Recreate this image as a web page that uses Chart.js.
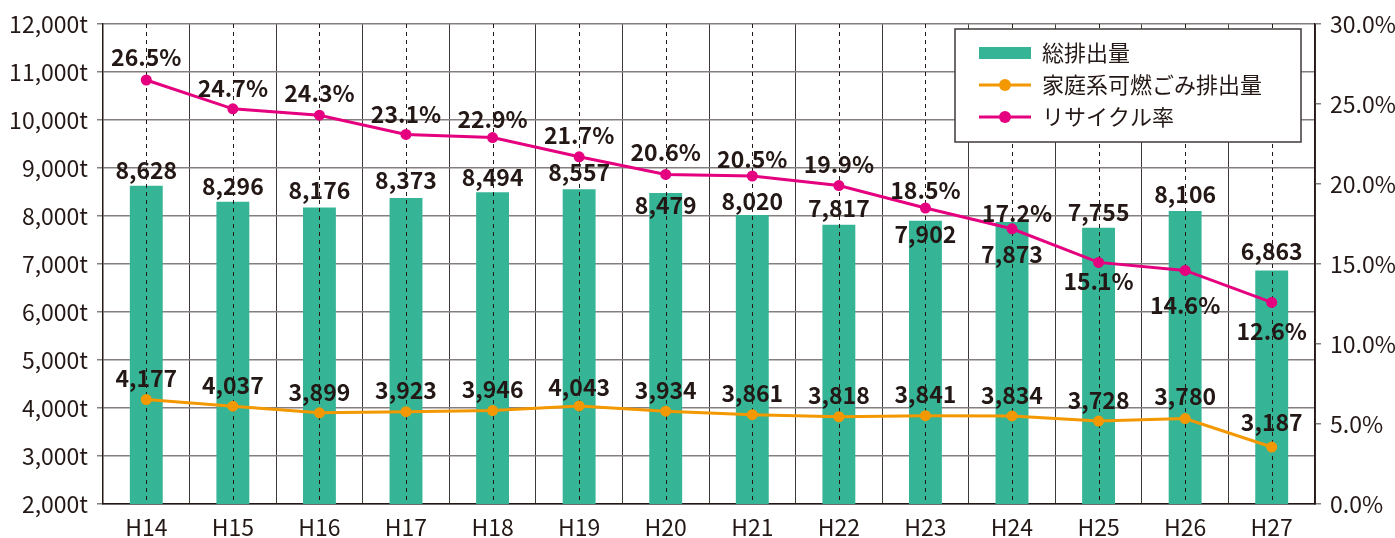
<!DOCTYPE html>
<html>
<head>
<meta charset="utf-8">
<script src="https://cdn.jsdelivr.net/npm/chart.js@4/dist/chart.umd.min.js"></script>
<style>
  html, body { margin: 0; padding: 0; background: #fff; }
  #wrap { width: 1395px; height: 538px; }
</style>
</head>
<body>
<div id="wrap"><canvas id="chart" width="1395" height="538"></canvas></div>
<script>
// データ
var years = ['H14', 'H15', 'H16', 'H17', 'H18', 'H19', 'H20', 'H21', 'H22', 'H23', 'H24', 'H25', 'H26', 'H27'];
var totalWaste = [8628, 8296, 8176, 8373, 8494, 8557, 8479, 8020, 7817, 7902, 7873, 7755, 8106, 6863];
var householdWaste = [4177, 4037, 3899, 3923, 3946, 4043, 3934, 3861, 3818, 3841, 3834, 3728, 3780, 3187];
var recycleRate = [26.5, 24.7, 24.3, 23.1, 22.9, 21.7, 20.6, 20.5, 19.9, 18.5, 17.2, 15.1, 14.6, 12.6];

// ラベルの上下位置 (px)
var totalLabelDy = [-16, -16, -17, -18, -15, -17, 12, -14, -17, 14, 32, -15, -17, -19];
var householdLabelDy = [-21, -21, -21, -21, -21, -19, -21, -21, -21, -21, -21, -21, -22, -25];
var recycleLabelDy = [-23, -21, -22, -20, -18, -22, -22, -17, -21, -18, -16, 19, 35, 29];
var recycleLabelDx = [0, 0, 0, 0, 0, 0, 0, 0, 0, 0, 5, 0, 0, 0];

var textColor = '#231815';
var green = '#35b596';
var orange = '#f39800';
var pink = '#e4007f';
var fontJP = '"Noto Sans CJK JP", "Noto Sans", sans-serif';

function fmt(n) {
    return n.toString().replace(/\B(?=(\d{3})+(?!\d))/g, ',');
}

// 中央の点線
var centerLines = {
    id: 'centerLines',
    afterDatasetDraw: function (chart, args) {
        if (args.index !== 0) return;
        var ctx = chart.ctx, area = chart.chartArea;
        var x = chart.scales.x;
        ctx.save();
        ctx.strokeStyle = '#231815';
        ctx.lineWidth = 1;
        ctx.setLineDash([4, 4]);
        for (var i = 0; i < years.length; i++) {
            var px = Math.round(x.getPixelForValue(i)) + 0.5;
            ctx.beginPath();
            ctx.moveTo(px, area.top);
            ctx.lineTo(px, area.bottom);
            ctx.stroke();
        }
        ctx.restore();
    }
};

// 数値ラベル
var valueLabels = {
    id: 'valueLabels',
    afterDatasetsDraw: function (chart) {
        var ctx = chart.ctx;
        ctx.save();
        ctx.font = 'bold 23px ' + fontJP;
        ctx.fillStyle = textColor;
        ctx.textAlign = 'center';
        ctx.textBaseline = 'middle';
        var bars = chart.getDatasetMeta(0).data;
        var house = chart.getDatasetMeta(1).data;
        var rec = chart.getDatasetMeta(2).data;
        for (var i = 0; i < years.length; i++) {
            ctx.fillText(fmt(totalWaste[i]), bars[i].x, bars[i].y + totalLabelDy[i]);
            ctx.fillText(fmt(householdWaste[i]), house[i].x, house[i].y + householdLabelDy[i]);
            ctx.fillText(recycleRate[i].toFixed(1) + '%', rec[i].x + recycleLabelDx[i], rec[i].y + recycleLabelDy[i]);
        }
        ctx.restore();
    }
};

// 凡例 (グラフ内右上)
var boxLegend = {
    id: 'boxLegend',
    afterDraw: function (chart) {
        var ctx = chart.ctx;
        var left = 955, top = 29, w = 346, h = 113;
        ctx.save();
        ctx.fillStyle = '#fff';
        ctx.fillRect(left, top, w, h);
        ctx.strokeStyle = '#3e3a39';
        ctx.lineWidth = 1.5;
        ctx.strokeRect(left, top, w, h);
        var rows = [53, 85, 117];
        ctx.font = '22px ' + fontJP;
        ctx.textBaseline = 'middle';
        ctx.textAlign = 'left';
        chart.data.datasets.forEach(function (ds, i) {
            var y = rows[i];
            if (ds.type === 'bar') {
                ctx.fillStyle = ds.backgroundColor;
                ctx.fillRect(979, y - 6, 52, 12);
            } else {
                ctx.strokeStyle = ds.borderColor;
                ctx.lineWidth = 3;
                ctx.beginPath();
                ctx.moveTo(979, y);
                ctx.lineTo(1031, y);
                ctx.stroke();
                ctx.fillStyle = ds.borderColor;
                ctx.beginPath();
                ctx.arc(1005, y, 6, 0, Math.PI * 2);
                ctx.fill();
            }
            ctx.fillStyle = textColor;
            ctx.fillText(ds.label, 1042, y);
        });
        ctx.restore();
    }
};

var ctx = document.getElementById('chart');

var chart = new Chart(ctx, {
    type: 'bar',
    data: {
        labels: years,
        datasets: [
            {
                type: 'bar',
                label: '総排出量',
                data: totalWaste,
                backgroundColor: green,
                barPercentage: 0.38,
                categoryPercentage: 1.0,
                yAxisID: 'y',
                order: 3
            },
            {
                type: 'line',
                label: '家庭系可燃ごみ排出量',
                data: householdWaste,
                borderColor: orange,
                backgroundColor: orange,
                borderWidth: 3,
                pointRadius: 5.5,
                pointBorderWidth: 0,
                tension: 0,
                yAxisID: 'y',
                order: 2
            },
            {
                type: 'line',
                label: 'リサイクル率',
                data: recycleRate,
                borderColor: pink,
                backgroundColor: pink,
                borderWidth: 3,
                pointRadius: 5.5,
                pointBorderWidth: 0,
                tension: 0,
                yAxisID: 'y2',
                order: 1
            }
        ]
    },
    options: {
        responsive: false,
        animation: false,
        layout: { padding: { top: 24, left: 0, right: 0, bottom: 0 } },
        plugins: {
            legend: { display: false },
            tooltip: { enabled: false }
        },
        scales: {
            x: {
                grid: { offset: true, color: '#3e3a39', lineWidth: 1, drawTicks: false },
                border: { color: '#231815', width: 1.5 },
                ticks: { color: textColor, font: { family: fontJP, size: 23 }, padding: 9 },
                afterFit: function (s) { s.height = 34; }
            },
            y: {
                position: 'left',
                min: 2000,
                max: 12000,
                ticks: {
                    stepSize: 1000,
                    color: textColor,
                    font: { family: fontJP, size: 23 },
                    padding: 9,
                    callback: function (v) { return fmt(v) + 't'; }
                },
                grid: { color: '#857e7e', lineWidth: 1.5, tickLength: 6 },
                border: { color: '#231815', width: 1.5 },
                afterFit: function (s) { s.width = 103; }
            },
            y2: {
                position: 'right',
                min: 0,
                max: 30,
                ticks: {
                    stepSize: 5,
                    color: textColor,
                    font: { family: fontJP, size: 23 },
                    padding: 9,
                    callback: function (v) { return v.toFixed(1) + '%'; }
                },
                grid: { drawOnChartArea: false, color: '#857e7e', lineWidth: 1.5, tickLength: 6 },
                border: { color: '#231815', width: 1.5 },
                afterFit: function (s) { s.width = 80; }
            }
        }
    },
    plugins: [centerLines, valueLabels, boxLegend]
});
</script>
</body>
</html>
